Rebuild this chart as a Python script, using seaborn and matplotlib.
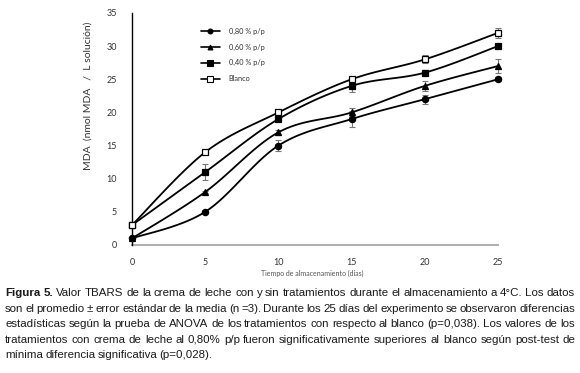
import numpy as np
import pandas as pd
import matplotlib
matplotlib.use("Agg")
import matplotlib.pyplot as plt
import seaborn as sns

# data
dias = [0, 5, 10, 15, 20, 25]
series = ["0,80 % p/p", "0,60 % p/p", "0,40 % p/p", "Blanco"]
mda_080 = [1, 5, 15, 19, 22, 25]
mda_060 = [1, 8, 17, 20, 24, 27]
mda_040 = [3, 11, 19, 24, 26, 30]
mda_blanco = [3, 14, 20, 25, 28, 32]
err_080 = [0, 0.2, 0.8, 1.2, 0.7, 0.3]
err_060 = [0, 0.2, 0.4, 0.6, 0.8, 1.0]
err_040 = [0, 1.2, 0.3, 0.9, 0.4, 0.3]
err_blanco = [0, 0.2, 0.3, 0.3, 0.6, 0.7]

caption = [
    "Figura 5. Valor TBARS de la crema de leche con y sin tratamientos durante el almacenamiento a 4°C. Los datos",
    "son el promedio ± error estándar de la media (n =3). Durante los 25 días del experimento se observaron diferencias",
    "estadísticas según la prueba de ANOVA de los tratamientos con respecto al blanco (p=0,038). Los valores de los",
    "tratamientos con crema de leche al 0,80% p/p fueron significativamente superiores al blanco según post-test de",
    "mínima diferencia significativa (p=0,028).",
]

sns.set_style("white")
plt.rcParams['font.family'] = ['Lato', 'DejaVu Sans']

values = [mda_080, mda_060, mda_040, mda_blanco]
errors = [err_080, err_060, err_040, err_blanco]
markers = ['o', '^', 's', 's']
faces = ['black', 'black', 'black', 'white']
sizes = [4.5, 4.5, 4.8, 5.0]


# Excel-like smoothed line through the points
def smooth(x, y, n=25):
    x = np.asarray(x, float)
    y = np.asarray(y, float)
    px, py = [], []
    for i in range(len(x) - 1):
        i0 = max(i - 1, 0)
        i3 = min(i + 2, len(x) - 1)
        c1x = x[i] + (x[i + 1] - x[i0]) / 6
        c1y = y[i] + (y[i + 1] - y[i0]) / 6
        c2x = x[i + 1] - (x[i3] - x[i]) / 6
        c2y = y[i + 1] - (y[i3] - y[i]) / 6
        t = np.linspace(0, 1, n)
        bx = (1-t)**3*x[i] + 3*(1-t)**2*t*c1x + 3*(1-t)*t**2*c2x + t**3*x[i+1]
        by = (1-t)**3*y[i] + 3*(1-t)**2*t*c1y + 3*(1-t)*t**2*c2y + t**3*y[i+1]
        px.extend(bx)
        py.extend(by)
    return np.array(px), np.array(py)


W, H = 580, 373
fig = plt.figure(figsize=(W / 100, H / 100), dpi=100)
ax = fig.add_axes([132 / W, 1 - 245 / H, 366 / W, 232 / H])

handles = []
for name, v, e, m, fc, ms in zip(series, values, errors, markers, faces, sizes):
    sx, sy = smooth(dias, v)
    sns.lineplot(x=sx, y=sy, ax=ax, color='black', lw=1.3, sort=False,
                 estimator=None, clip_on=False, zorder=3)
    ax.errorbar(dias, v, yerr=e, fmt='none', ecolor='#777777', elinewidth=0.8,
                capsize=2, capthick=0.8, zorder=2, clip_on=False)
    ax.plot(dias, v, linestyle='none', marker=m, ms=ms, mfc=fc, mec='black',
            mew=0.9, zorder=4, clip_on=False)
    h, = ax.plot([], [], color='black', lw=1.2, marker=m, ms=ms - 1, mfc=fc,
                 mec='black', mew=0.8)
    handles.append(h)

ax.set_xlim(0, 25)
ax.set_ylim(0, 35)
ax.set_xticks(dias)
ax.set_yticks(range(0, 36, 5))
ax.tick_params(axis='both', labelsize=6.5, colors='#777777', labelcolor='#333333', length=3, width=0.8)
ax.tick_params(axis='x', direction='inout', pad=8)
ax.tick_params(axis='y', direction='out', pad=8)
sns.despine(ax=ax)
ax.spines['left'].set_color('black')
ax.spines['left'].set_linewidth(1.0)
ax.spines['bottom'].set_color('#b0b0b0')
ax.spines['bottom'].set_linewidth(1.5)
ax.spines['bottom'].set_zorder(1)

ax.legend(handles, series, loc='upper left', bbox_to_anchor=(194 / W, 1 - 21 / H),
          bbox_transform=fig.transFigure, frameon=False, fontsize=5.3,
          handlelength=2.6, labelspacing=1.2, handletextpad=1.2,
          labelcolor='#333333')

fig.text(88 / W, 1 - 96 / H, "MDA  (nmol MDA   /  L solución)", rotation=90,
         ha='center', va='center', fontsize=7.5, color='#333333')
fig.text(312 / W, 1 - 273 / H, "Tiempo de almacenamiento (días)",
         ha='center', va='center', fontsize=5, color='#555555')

# justified caption, placed word by word on a common baseline;
# font size shrinks until every line fits
cap_family = ['Liberation Sans', 'DejaVu Sans']
cap_base = [296, 312, 327, 343, 358]
x0, x1 = 5, 575
fig.canvas.draw()
r = fig.canvas.get_renderer()
fs = 9.0
while True:
    arts_all, widths_all = [], []
    for i, (line, y) in enumerate(zip(caption, cap_base)):
        words = line.split(' ')
        arts = []
        for j, w in enumerate(words):
            bold = i == 0 and j < 2
            arts.append(fig.text(0, 1 - y / H, w, fontsize=fs, family=cap_family,
                                 fontweight='bold' if bold else 'normal',
                                 va='baseline', ha='left', color='#1a1a1a'))
        arts_all.append(arts)
        widths_all.append([a.get_window_extent(r).width for a in arts])
    min_gap = min((x1 - x0 - sum(wd)) / (len(wd) - 1) for wd in widths_all[:-1])
    if min_gap >= 2.0 or fs <= 5:
        break
    for arts in arts_all:
        for a in arts:
            a.remove()
    fs -= 0.25

for i, (arts, widths) in enumerate(zip(arts_all, widths_all)):
    if i < len(caption) - 1:
        gap = (x1 - x0 - sum(widths)) / (len(widths) - 1)
    else:
        gap = min_gap
    x = x0
    for a, w in zip(arts, widths):
        a.set_x(x / W)
        x += w + gap

fig.savefig("out.png", dpi=100)
